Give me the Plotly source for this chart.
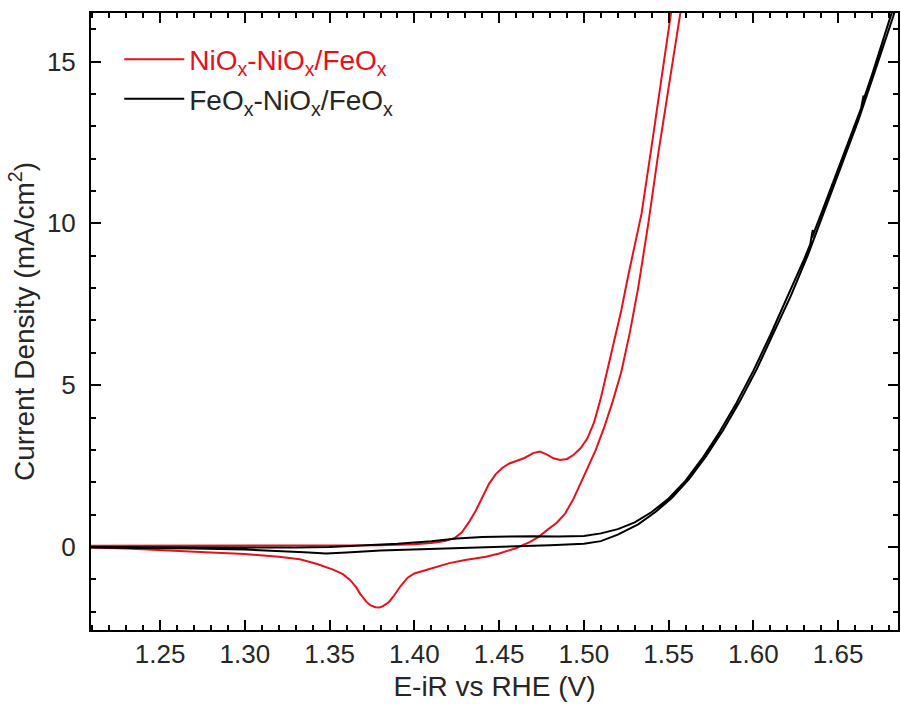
import plotly.graph_objects as go

# ---- data ----
red_fwd_x = [1.209, 1.25, 1.30, 1.35, 1.38, 1.40, 1.41, 1.418, 1.424, 1.428, 1.432, 1.436, 1.440,
             1.444, 1.448, 1.452, 1.456, 1.460, 1.465, 1.470, 1.474, 1.478, 1.482, 1.486, 1.490,
             1.494, 1.498, 1.502, 1.506, 1.510, 1.514, 1.518, 1.522, 1.526, 1.530, 1.534, 1.540,
             1.546, 1.551, 1.555]
red_fwd_y = [0.04, 0.04, 0.03, 0.03, 0.05, 0.08, 0.12, 0.18, 0.28, 0.45, 0.75, 1.10, 1.55,
             1.95, 2.25, 2.45, 2.58, 2.66, 2.75, 2.90, 2.95, 2.86, 2.74, 2.69, 2.72,
             2.85, 3.05, 3.35, 3.85, 4.60, 5.50, 6.30, 7.30, 8.35, 9.30, 10.30, 12.40,
             14.60, 16.50, 17.80]

red_rev_x = [1.5585, 1.5569, 1.550, 1.544, 1.538, 1.532, 1.527, 1.522, 1.517, 1.512, 1.507,
             1.503, 1.499, 1.494, 1.489, 1.484, 1.479, 1.4735, 1.468, 1.4598, 1.450, 1.4422,
             1.430, 1.4206, 1.4069, 1.400, 1.396, 1.392, 1.388, 1.385, 1.3815, 1.3794, 1.377,
             1.374, 1.3716, 1.368, 1.3657, 1.362, 1.3578, 1.352, 1.3422, 1.3324, 1.32, 1.30,
             1.28, 1.25, 1.23, 1.209]
red_rev_y = [17.80, 16.50, 14.20, 12.20, 10.00, 8.00, 6.60, 5.40, 4.50, 3.70, 3.00,
             2.55, 2.07, 1.50, 1.04, 0.75, 0.55, 0.32, 0.15, -0.04, -0.20, -0.30,
             -0.40, -0.50, -0.71, -0.82, -0.95, -1.20, -1.50, -1.70, -1.83, -1.87, -1.86,
             -1.80, -1.69, -1.45, -1.25, -1.02, -0.84, -0.70, -0.52, -0.38, -0.30, -0.22,
             -0.17, -0.09, -0.05, -0.02]

blk_fwd_x = [1.209, 1.25, 1.30, 1.33, 1.35, 1.37, 1.39, 1.41, 1.425, 1.44, 1.455, 1.47, 1.485,
             1.50, 1.51, 1.52, 1.53, 1.54, 1.55, 1.56, 1.57, 1.58, 1.59, 1.60, 1.61, 1.62,
             1.63, 1.6335, 1.6350, 1.6345, 1.64, 1.65, 1.66, 1.6635, 1.6650, 1.6645, 1.67,
             1.68, 1.687]
blk_fwd_y = [0.00, -0.01, -0.02, -0.02, 0.00, 0.04, 0.10, 0.18, 0.26, 0.31, 0.33, 0.33, 0.32,
             0.34, 0.42, 0.55, 0.76, 1.08, 1.50, 2.05, 2.75, 3.55, 4.45, 5.45, 6.55, 7.70,
             8.90, 9.35, 9.80, 9.55, 10.30, 11.70, 13.05, 13.55, 13.95, 13.75, 14.60,
             16.30, 17.40]

blk_rev_x = [1.688, 1.6825, 1.672, 1.662, 1.652, 1.642, 1.632, 1.622, 1.612, 1.602, 1.592,
             1.582, 1.572, 1.562, 1.552, 1.542, 1.532, 1.52, 1.51, 1.50, 1.48, 1.46, 1.44,
             1.42, 1.40, 1.38, 1.36, 1.348, 1.335, 1.32, 1.30, 1.27, 1.24, 1.209]
blk_rev_y = [17.40, 16.40, 14.75, 13.20, 11.80, 10.40, 9.00, 7.75, 6.60, 5.50, 4.50,
             3.60, 2.80, 2.10, 1.52, 1.07, 0.70, 0.38, 0.18, 0.10, 0.05, 0.02, -0.01,
             -0.03, -0.06, -0.11, -0.17, -0.20, -0.16, -0.12, -0.08, -0.05, -0.03, -0.02]

x_range = [1.2092, 1.6853]
y_range = [-2.566, 16.50]

RED = "#e8101a"
FONT = "Liberation Sans, Arial, sans-serif"
TXT = "#262626"

fig = go.Figure()
fig.add_trace(go.Scatter(
    x=red_fwd_x + red_rev_x, y=red_fwd_y + red_rev_y, mode="lines",
    line=dict(color=RED, width=2),
    name='<span style="color:%s">NiO<sub>x</sub>-NiO<sub>x</sub>/FeO<sub>x</sub></span>' % RED))
fig.add_trace(go.Scatter(
    x=blk_fwd_x + blk_rev_x, y=blk_fwd_y + blk_rev_y, mode="lines",
    line=dict(color="black", width=2),
    name="FeO<sub>x</sub>-NiO<sub>x</sub>/FeO<sub>x</sub>"))

axis_common = dict(
    showline=True, linecolor="black", linewidth=2, mirror="allticks",
    ticks="inside", ticklen=10, tickwidth=1.5, tickcolor="black",
    showgrid=False, zeroline=False,
    tickfont=dict(family=FONT, size=26, color=TXT),
)

fig.update_xaxes(range=x_range, tick0=1.25, dtick=0.05, tickformat=".2f",
                 minor=dict(ticks="inside", ticklen=5, dtick=0.01, tick0=1.25,
                            tickcolor="black", tickwidth=1.5),
                 title=dict(text="E-iR vs RHE (V)", font=dict(family=FONT, size=28, color=TXT),
                            standoff=8),
                 ticklabelstandoff=0,
                 **axis_common)
fig.update_yaxes(range=y_range, tick0=0, dtick=5,
                 minor=dict(ticks="inside", ticklen=5, dtick=1, tick0=0,
                            tickcolor="black", tickwidth=1.5),
                 title=dict(text="Current Density (mA/cm<sup>2</sup>)",
                            font=dict(family=FONT, size=28, color=TXT), standoff=4),
                 ticklabelstandoff=8,
                 **axis_common)

fig.update_layout(
    width=901, height=707,
    margin=dict(l=91, r=1, t=13, b=77),
    plot_bgcolor="white", paper_bgcolor="white",
    showlegend=True,
    legend=dict(x=0.035, y=0.965, xanchor="left", yanchor="top",
                bgcolor="rgba(0,0,0,0)", font=dict(family=FONT, size=28, color=TXT),
                itemwidth=60, tracegroupgap=0),
)

fig.write_html("out.html")
